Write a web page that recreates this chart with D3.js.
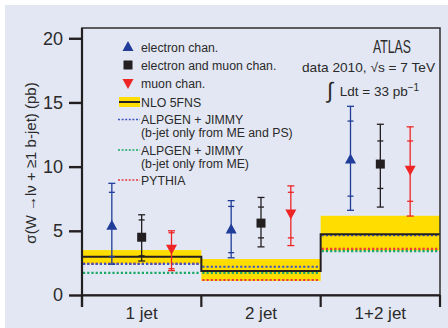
<!DOCTYPE html>
<html>
<head>
<meta charset="utf-8">
<script src="https://cdn.jsdelivr.net/npm/d3@7"></script>
<style>
  html, body { margin: 0; padding: 0; background: #ffffff; }
  svg { display: block; }
  text { font-family: "Liberation Sans", Arial, sans-serif; fill: #2a2a2a; }
</style>
</head>
<body>
<svg id="chart" width="448" height="328"></svg>
<script>
// Jet multiplicity bins
const categories = ["1 jet", "2 jet", "1+2 jet"];

// Measured cross sections (pb): value, stat-only interval, total interval
const electronVal = [5.4, 5.1, 10.55];
const electronStat = [[3.0, 8.0], [3.3, 6.9], [7.7, 13.55]];
const electronTot = [[2.4, 8.7], [2.9, 7.35], [6.6, 14.7]];

const combinedVal = [4.5, 5.6, 10.2];
const combinedStat = [[3.05, 5.85], [4.45, 6.85], [8.3, 12.0]];
const combinedTot = [[2.65, 6.25], [3.75, 7.6], [6.85, 13.3]];

const muonVal = [3.6, 6.35, 9.75];
const muonStat = [[2.05, 4.85], [4.45, 8.0], [7.3, 12.0]];
const muonTot = [[1.9, 5.0], [3.85, 8.5], [6.15, 13.1]];

// Theory predictions (pb)
const nloCentral = [2.98, 1.87, 4.74];
const nloLow = [2.45, 1.1, 3.47];
const nloHigh = [3.5, 2.8, 6.17];
const alpgenMEPS = [2.42, 2.2, 4.67];
const alpgenME = [1.73, 1.73, 3.42];
const pythia = [2.42, 1.17, 3.6];

const yTicks = [0, 5, 10, 15, 20];

const colBlue = "#1f3d99";
const colBlack = "#231f20";
const colRed = "#ee2524";
const colYellow = "#ffdd00";
const colGreen = "#1aa866";
const colDotBlue = "#3d55c0";
const colDotRed = "#e8393f";

const svg = d3.select("#chart");
const W = 448, H = 328;

// background panel
svg.append("rect").attr("x", 5).attr("y", 5).attr("width", W - 5).attr("height", H - 5)
  .attr("fill", "#e3e7f3");

const x = d3.scaleBand().domain(categories).range([82, 440]).padding(0);
const y = d3.scaleLinear().domain([0, 20.8]).range([295, 28]);
const bw = x.bandwidth();

const plot = svg.append("g");

// NLO uncertainty bands
plot.selectAll("rect.band").data(categories).enter().append("rect")
  .attr("x", d => x(d)).attr("width", bw)
  .attr("y", (d, i) => y(nloHigh[i]))
  .attr("height", (d, i) => y(nloLow[i]) - y(nloHigh[i]))
  .attr("fill", colYellow);

// dotted MC predictions
function dotted(vals, color) {
  plot.selectAll(null).data(categories).enter().append("line")
    .attr("x1", d => x(d) + 1).attr("x2", d => x(d) + bw - 1)
    .attr("y1", (d, i) => y(vals[i])).attr("y2", (d, i) => y(vals[i]))
    .attr("stroke", color).attr("stroke-width", 2.2)
    .attr("stroke-dasharray", "2.2,2");
}
dotted(alpgenME, colGreen);
dotted(pythia, colDotRed);
dotted(alpgenMEPS, colDotBlue);

// NLO central value as a step line
const steps = [];
categories.forEach((c, i) => {
  steps.push([x(c), nloCentral[i]]);
  steps.push([x(c) + bw, nloCentral[i]]);
});
plot.append("path")
  .attr("d", d3.line().x(d => d[0]).y(d => y(d[1]))(steps))
  .attr("fill", "none").attr("stroke", colBlack).attr("stroke-width", 2);

// frame
svg.append("rect").attr("x", 82).attr("y", 28).attr("width", 358).attr("height", 267)
  .attr("fill", "none").attr("stroke", "#3a3a3a").attr("stroke-width", 1.6);

// data points with error bars
const series = [
  { val: electronVal, stat: electronStat, tot: electronTot, color: colBlue, off: 0.25, sym: "up" },
  { val: combinedVal, stat: combinedStat, tot: combinedTot, color: colBlack, off: 0.5, sym: "sq" },
  { val: muonVal, stat: muonStat, tot: muonTot, color: colRed, off: 0.75, sym: "down" }
];

function marker(g, sym, color, cx, cy) {
  if (sym === "sq") {
    g.append("rect").attr("x", cx - 4.5).attr("y", cy - 4.5).attr("width", 9).attr("height", 9).attr("fill", color);
  } else if (sym === "up") {
    g.append("path").attr("d", `M${cx},${cy - 6} L${cx + 5.5},${cy + 4} L${cx - 5.5},${cy + 4} Z`).attr("fill", color);
  } else {
    g.append("path").attr("d", `M${cx},${cy + 6} L${cx + 5.5},${cy - 4} L${cx - 5.5},${cy - 4} Z`).attr("fill", color);
  }
}

series.forEach(s => {
  categories.forEach((c, i) => {
    const cx = x(c) + bw * s.off;
    const g = plot.append("g");
    g.append("line").attr("x1", cx).attr("x2", cx)
      .attr("y1", y(s.tot[i][0])).attr("y2", y(s.tot[i][1]))
      .attr("stroke", s.color).attr("stroke-width", 1.3);
    [s.tot[i][0], s.tot[i][1]].forEach(v => {
      g.append("line").attr("x1", cx - 3.5).attr("x2", cx + 3.5)
        .attr("y1", y(v)).attr("y2", y(v)).attr("stroke", s.color).attr("stroke-width", 1.3);
    });
    [s.stat[i][0], s.stat[i][1]].forEach(v => {
      g.append("line").attr("x1", cx - 3).attr("x2", cx + 3)
        .attr("y1", y(v)).attr("y2", y(v)).attr("stroke", s.color).attr("stroke-width", 1.3);
    });
    marker(g, s.sym, s.color, cx, y(s.val[i]));
  });
});

// y axis
const yAxis = svg.append("g").attr("transform", "translate(82,0)")
  .call(d3.axisLeft(y).tickValues(yTicks).tickSize(13).tickPadding(6).tickFormat(d3.format("d")));
yAxis.select(".domain").attr("stroke", colBlack).attr("stroke-width", 2.2)
  .attr("d", "M0,28V307");
yAxis.selectAll(".tick line").attr("stroke", colBlack).attr("stroke-width", 2.4);
yAxis.selectAll(".tick text").attr("font-size", 18).style("font-family", "'Liberation Sans', Arial, sans-serif").attr("fill", "#2a2a2a");

// x axis: ticks at bin edges, labels at bin centers
const edges = [x(categories[0])].concat(categories.map(c => x(c) + bw));
const xAxis = svg.append("g");
xAxis.append("line").attr("x1", 82).attr("x2", 440).attr("y1", 295.5).attr("y2", 295.5)
  .attr("stroke", colBlack).attr("stroke-width", 2);
xAxis.selectAll(null).data(edges).enter().append("line")
  .attr("x1", d => d).attr("x2", d => d).attr("y1", 295).attr("y2", 307)
  .attr("stroke", colBlack).attr("stroke-width", 2.2);
xAxis.selectAll(null).data(categories).enter().append("text")
  .attr("x", d => x(d) + bw / 2).attr("y", 319)
  .attr("text-anchor", "middle").attr("font-size", 17)
  .text(d => d);

// y axis title
svg.append("text")
  .attr("transform", "translate(36,163) rotate(-90)")
  .attr("text-anchor", "middle").attr("font-size", 15)
  .text("σ(W →lν + ≥1 b-jet) (pb)");

// legend
const lg = svg.append("g");
const lx = 141, fs = 12.3;
const legendRows = [
  { y: 47, label: ["electron chan."], sym: "up", color: colBlue },
  { y: 65, label: ["electron and muon chan."], sym: "sq", color: colBlack },
  { y: 83, label: ["muon chan."], sym: "down", color: colRed },
  { y: 102, label: ["NLO 5FNS"], sym: "nlo" },
  { y: 119.5, label: ["ALPGEN + JIMMY", "(b-jet only from ME and PS)"], sym: "dot", color: colDotBlue },
  { y: 150, label: ["ALPGEN + JIMMY", "(b-jet only from ME)"], sym: "dot", color: colGreen },
  { y: 180, label: ["PYTHIA"], sym: "dot", color: colDotRed }
];
legendRows.forEach(r => {
  if (r.sym === "up" || r.sym === "down" || r.sym === "sq") {
    marker(lg, r.sym, r.color, 128, r.y);
  } else if (r.sym === "nlo") {
    lg.append("rect").attr("x", 119).attr("y", r.y - 5).attr("width", 21).attr("height", 10).attr("fill", colYellow);
    lg.append("line").attr("x1", 119).attr("x2", 140).attr("y1", r.y).attr("y2", r.y)
      .attr("stroke", colBlack).attr("stroke-width", 2);
  } else {
    lg.append("line").attr("x1", 118).attr("x2", 140).attr("y1", r.y).attr("y2", r.y)
      .attr("stroke", r.color).attr("stroke-width", 1.6).attr("stroke-dasharray", "2,1.6");
  }
  r.label.forEach((t, k) => {
    lg.append("text").attr("x", lx).attr("y", r.y + 4.5 + k * 13)
      .attr("font-size", fs).text(t);
  });
});

// experiment label
const al = svg.append("g");
al.append("text").attr("x", 392).attr("y", 53).attr("text-anchor", "middle")
  .attr("font-size", 19).attr("textLength", 38).attr("lengthAdjust", "spacingAndGlyphs")
  .style("font-family", "'Liberation Sans Narrow', 'Liberation Sans', sans-serif")
  .text("ATLAS");
al.append("text").attr("x", 368.5).attr("y", 71.5).attr("text-anchor", "middle")
  .attr("font-size", 13).attr("textLength", 133).attr("lengthAdjust", "spacingAndGlyphs")
  .style("font-family", "'Liberation Sans Narrow', 'Liberation Sans', sans-serif")
  .text("data 2010, √s = 7 TeV");
const lum = al.append("text").attr("x", 327).attr("y", 96).attr("font-size", 13.5)
  .style("font-family", "'Liberation Sans Narrow', 'Liberation Sans', sans-serif");
lum.append("tspan").attr("font-size", 22).attr("dy", 2).text("∫");
lum.append("tspan").attr("dy", -2).attr("dx", 3).text(" Ldt = 33 pb");
lum.append("tspan").attr("dy", -5).attr("font-size", 10).text("−1");
</script>
</body>
</html>
